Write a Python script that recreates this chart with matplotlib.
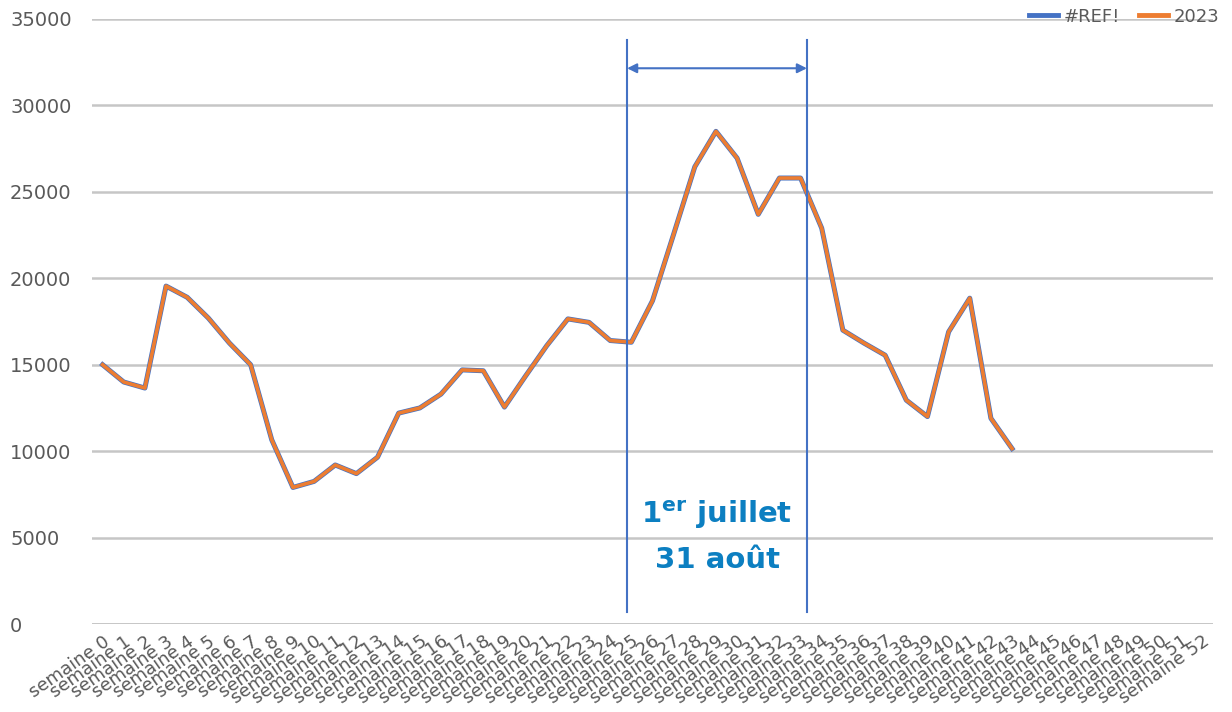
import matplotlib.pyplot as plt

# Weekly values (semaine 0 .. semaine 43)
semaines = ['semaine ' + str(i) for i in range(53)]
valeurs_2023 = [15000, 14000, 13650, 19550, 18900, 17700, 16250, 15000, 10650, 7900,
                8250, 9200, 8700, 9650, 12200, 12500, 13300, 14700, 14650, 12550,
                14350, 16100, 17650, 17450, 16400, 16300, 18700, 22550, 26450, 28500,
                26950, 23700, 25800, 25800, 22900, 17000, 16250, 15550, 12950, 12000,
                16900, 18850, 11900, 10150]
valeurs_ref = list(valeurs_2023)  # #REF! series sits under the 2023 one
y_ticks = [0, 5000, 10000, 15000, 20000, 25000, 30000, 35000]

# period markers (1er juillet -> 31 aout), in category units
debut_ete = 24.8
fin_ete = 33.3
fleche_y = 32150

grid_col = '#C6C6C6'
txt_col = '#595959'
bleu = '#4472C4'
orange = '#ED7D31'

fig = plt.figure(figsize=(12.32, 7.12), dpi=100)
ax = fig.add_axes([92/1232, 1 - 624/712, (1213-92)/1232, (624-19)/712])

x = list(range(len(valeurs_2023)))
ax.plot(x, valeurs_ref, color=bleu, lw=3.6, label='#REF!', solid_joinstyle='round')
ax.plot(x, valeurs_2023, color=orange, lw=2.6, label='2023', solid_joinstyle='round')

ax.set_xlim(-0.5, len(semaines) - 0.5)
ax.set_ylim(0, 35000)
ax.set_yticks(y_ticks)
ax.set_yticklabels([str(v) for v in y_ticks])
ax.set_xticks(range(len(semaines)))
ax.set_xticklabels(semaines, rotation=35, ha='right', rotation_mode='anchor')

ax.grid(axis='y', color=grid_col, lw=1.8)
ax.set_axisbelow(True)
for s in ax.spines.values():
    s.set_visible(False)
ax.axhline(0, color=grid_col, lw=2)
ax.tick_params(axis='y', length=0, pad=59, labelsize=14, labelcolor=txt_col)
ax.tick_params(axis='x', length=0, pad=6, labelsize=13, labelcolor=txt_col)
for lab in ax.get_yticklabels():
    lab.set_ha('left')

# summer window
ax.axvline(debut_ete, ymin=0.02, ymax=0.965, color=bleu, lw=1.5)
ax.axvline(fin_ete, ymin=0.02, ymax=0.965, color=bleu, lw=1.5)
ax.annotate('', xy=(debut_ete, fleche_y), xytext=(fin_ete, fleche_y),
            arrowprops=dict(arrowstyle='<|-|>', color=bleu, lw=1.5,
                            shrinkA=0, shrinkB=0, mutation_scale=14))
milieu = (debut_ete + fin_ete) / 2
ax.text(milieu, 6300, r'1$^{\mathbf{er}}$ juillet', color='#0C7FC1', fontsize=21,
        fontweight='bold', ha='center', va='center')
ax.text(milieu, 3700, '31 août', color='#0C7FC1', fontsize=21,
        fontweight='bold', ha='center', va='center')

leg = fig.legend(loc='upper right', bbox_to_anchor=(1.003, 1.012), ncol=2, frameon=False,
                 fontsize=13, labelcolor=txt_col, handlelength=1.6, handletextpad=0.3,
                 columnspacing=1.1)
for h in leg.get_lines():
    h.set_linewidth(3.5)

fig.savefig('out.png', dpi=100)
